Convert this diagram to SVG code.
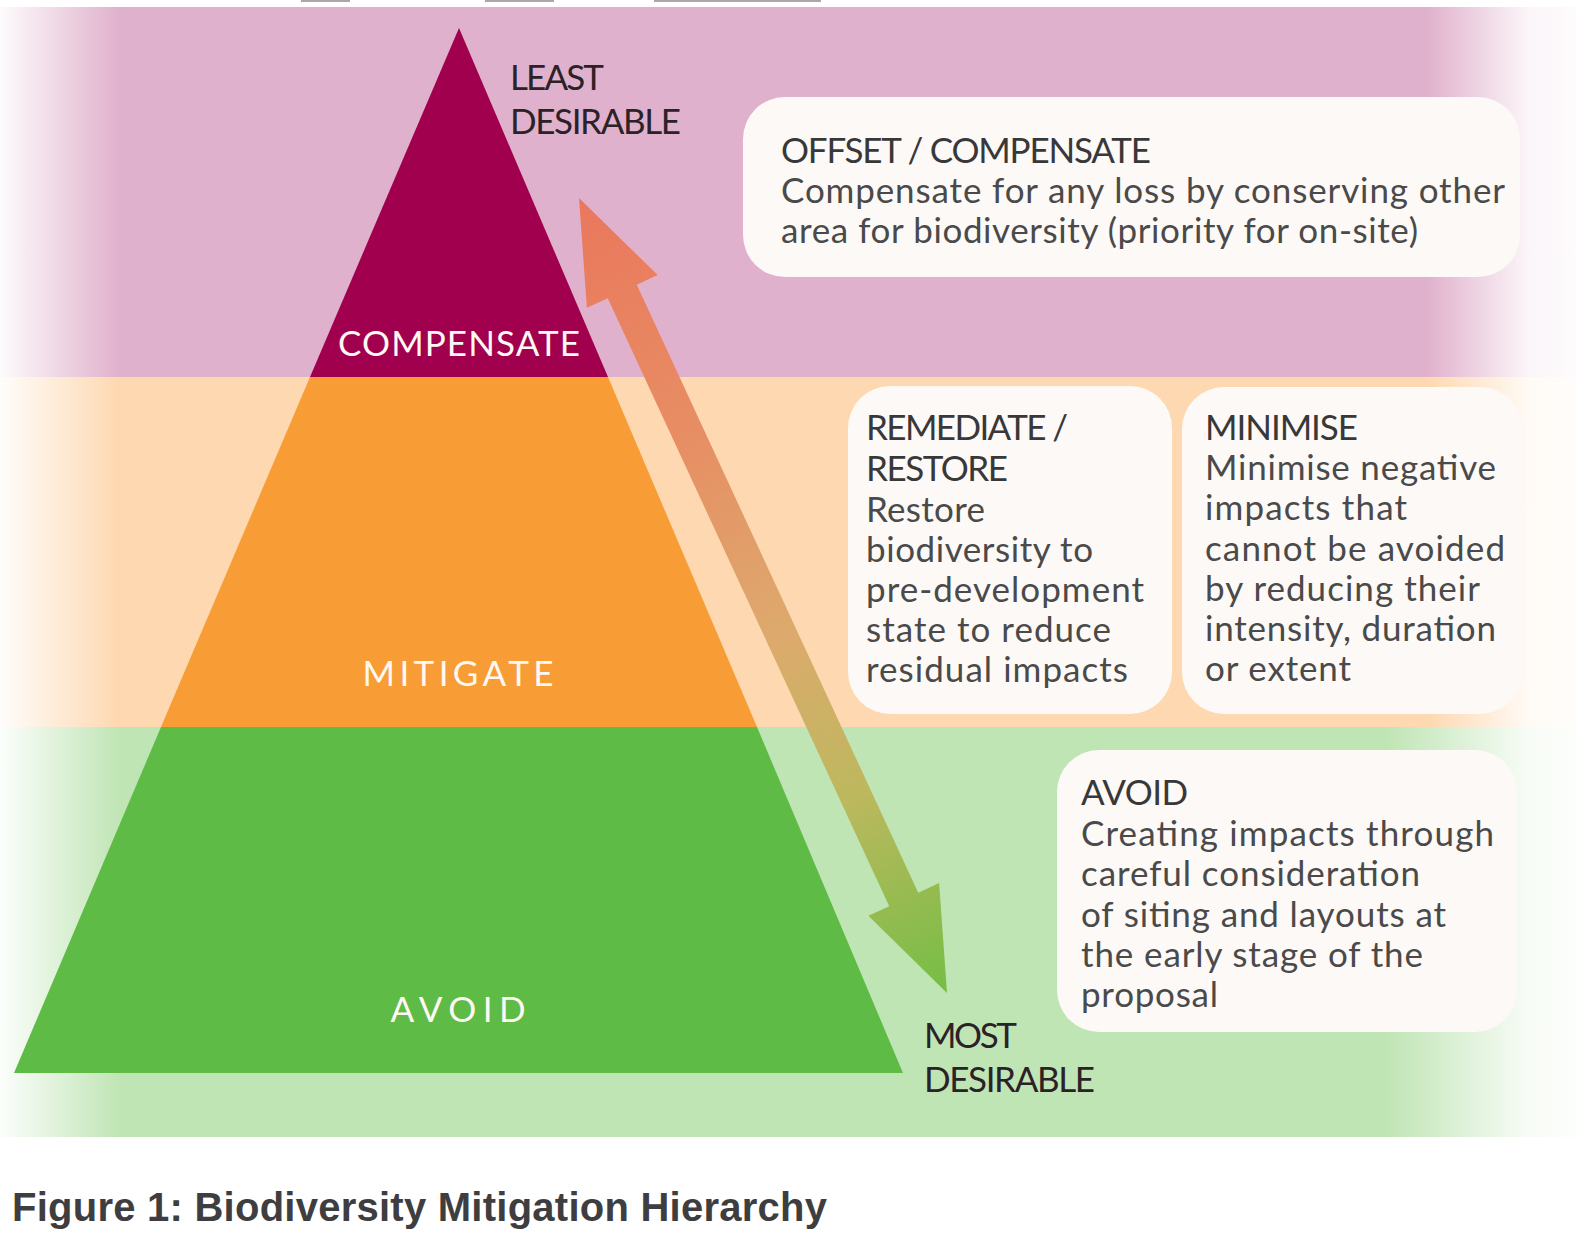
<svg xmlns="http://www.w3.org/2000/svg" width="1576" height="1243" viewBox="0 0 1576 1243">
  <defs>
    <linearGradient id="gPink" gradientUnits="userSpaceOnUse" x1="0" y1="0" x2="1576" y2="0">
      <stop offset="0" stop-color="#E0B1CC" stop-opacity="0.05"/>
      <stop offset="0.076" stop-color="#E0B1CC" stop-opacity="1"/>
      <stop offset="0.905" stop-color="#E0B1CC" stop-opacity="1"/>
      <stop offset="0.97" stop-color="#E0B1CC" stop-opacity="0.12"/>
      <stop offset="1" stop-color="#E0B1CC" stop-opacity="0.05"/>
    </linearGradient>
    <linearGradient id="gOrange" gradientUnits="userSpaceOnUse" x1="0" y1="0" x2="1576" y2="0">
      <stop offset="0" stop-color="#FDD8B0" stop-opacity="0.05"/>
      <stop offset="0.076" stop-color="#FDD8B0" stop-opacity="1"/>
      <stop offset="0.905" stop-color="#FDD8B0" stop-opacity="1"/>
      <stop offset="0.97" stop-color="#FDD8B0" stop-opacity="0.12"/>
      <stop offset="1" stop-color="#FDD8B0" stop-opacity="0.05"/>
    </linearGradient>
    <linearGradient id="gGreen" gradientUnits="userSpaceOnUse" x1="0" y1="0" x2="1576" y2="0">
      <stop offset="0" stop-color="#C0E5B5" stop-opacity="0.05"/>
      <stop offset="0.076" stop-color="#C0E5B5" stop-opacity="1"/>
      <stop offset="0.88" stop-color="#C0E5B5" stop-opacity="1"/>
      <stop offset="0.97" stop-color="#C0E5B5" stop-opacity="0.12"/>
      <stop offset="1" stop-color="#C0E5B5" stop-opacity="0.05"/>
    </linearGradient>
    <linearGradient id="gArrow" gradientUnits="userSpaceOnUse" x1="0" y1="0" x2="876" y2="0">
      <stop offset="0" stop-color="#EA775C"/>
      <stop offset="0.3" stop-color="#E78E64"/>
      <stop offset="0.55" stop-color="#DDAA6D"/>
      <stop offset="0.75" stop-color="#BDB85E"/>
      <stop offset="1" stop-color="#74BE45"/>
    </linearGradient>
  </defs>
  <style>
    .box { fill: #FDF9F7; }
    .h { font-family: Lato, "Liberation Sans", sans-serif; font-size: 35px; fill: #383838; }
    .b { font-family: Lato, "Liberation Sans", sans-serif; font-size: 35px; fill: #4A4A4A; }
    .lvl { font-family: Lato, "Liberation Sans", sans-serif; font-size: 35px; fill: #FFF8F2; text-anchor: middle; }
    .end { font-family: Lato, "Liberation Sans", sans-serif; font-size: 35px; fill: #2B2228; }
    .cap { font-family: "Liberation Sans", Arial, sans-serif; font-size: 40px; font-weight: bold; fill: #3E3E40; }
  </style>

  <rect x="0" y="0" width="1576" height="1243" fill="#FFFFFF"/>
  <g id="top-marks" fill="#A8A8A8">
    <rect x="301" y="0" width="49" height="2"/>
    <rect x="485" y="0" width="69" height="2"/>
    <rect x="654" y="0" width="167" height="2"/>
  </g>

  <g id="bands">
    <rect id="band-compensate" x="0" y="7" width="1576" height="370" fill="url(#gPink)"/>
    <rect id="band-mitigate" x="0" y="377" width="1576" height="350" fill="url(#gOrange)"/>
    <rect id="band-avoid" x="0" y="727" width="1576" height="410" fill="url(#gGreen)"/>
  </g>

  <g id="pyramid-compensate">
    <polygon points="459,28 608,377 310,377" fill="#A0004E"/>
    <text class="lvl" x="459" y="356" textLength="242">COMPENSATE</text>
  </g>
  <g id="pyramid-mitigate">
    <polygon points="310,377 608,377 757,727 161,727" fill="#F89D35"/>
    <text class="lvl" x="458" y="686" textLength="191">MITIGATE</text>
  </g>
  <g id="pyramid-avoid">
    <polygon points="161,727 757,727 903,1073 14,1073" fill="#5DBB46"/>
    <text class="lvl" x="458" y="1022" textLength="135">AVOID</text>
  </g>

  <g id="label-least">
    <text class="end" x="510" y="90" textLength="94">LEAST</text>
    <text class="end" x="510" y="134" textLength="171">DESIRABLE</text>
  </g>
  <g id="label-most">
    <text class="end" x="924" y="1048" textLength="93">MOST</text>
    <text class="end" x="924" y="1092" textLength="171">DESIRABLE</text>
  </g>

  <g id="box-offset">
    <rect class="box" x="743" y="97" width="777" height="180" rx="42"/>
    <text class="h" x="781" y="163" textLength="370">OFFSET / COMPENSATE</text>
    <text class="b" x="781" y="203" textLength="724">Compensate for any loss by conserving other</text>
    <text class="b" x="781" y="243" textLength="637">area for biodiversity (priority for on-site)</text>
  </g>

  <g id="box-restore">
    <rect class="box" x="848" y="386" width="324" height="328" rx="42"/>
    <text class="h" x="866" y="440" textLength="202">REMEDIATE /</text>
    <text class="h" x="866" y="481" textLength="142">RESTORE</text>
    <text class="b" x="866" y="522" textLength="119">Restore</text>
    <text class="b" x="866" y="562" textLength="227">biodiversity to</text>
    <text class="b" x="866" y="602" textLength="278">pre-development</text>
    <text class="b" x="866" y="642" textLength="245">state to reduce</text>
    <text class="b" x="866" y="682" textLength="262">residual impacts</text>
  </g>

  <g id="box-minimise">
    <rect class="box" x="1182" y="387" width="340" height="327" rx="42"/>
    <text class="h" x="1205" y="440" textLength="153">MINIMISE</text>
    <text class="b" x="1205" y="480" textLength="291">Minimise negative</text>
    <text class="b" x="1205" y="520" textLength="202">impacts that</text>
    <text class="b" x="1205" y="561" textLength="300">cannot be avoided</text>
    <text class="b" x="1205" y="601" textLength="275">by reducing their</text>
    <text class="b" x="1205" y="641" textLength="291">intensity, duration</text>
    <text class="b" x="1205" y="681" textLength="146">or extent</text>
  </g>

  <g id="box-avoid">
    <rect class="box" x="1057" y="750" width="460" height="282" rx="42"/>
    <text class="h" x="1081" y="805" textLength="107">AVOID</text>
    <text class="b" x="1081" y="846" textLength="413">Creating impacts through</text>
    <text class="b" x="1081" y="886" textLength="339">careful consideration</text>
    <text class="b" x="1081" y="927" textLength="365">of siting and layouts at</text>
    <text class="b" x="1081" y="967" textLength="342">the early stage of the</text>
    <text class="b" x="1081" y="1007" textLength="137">proposal</text>
  </g>

  <g id="connectors">
    <g id="arrow-desirability" transform="translate(579,198) rotate(65.16)">
      <polygon points="0,0 103,-39 103,-16 773,-16 773,-39 876,0 773,39 773,16 103,16 103,39" fill="url(#gArrow)"/>
    </g>
  </g>

  <g id="caption">
    <text class="cap" x="12" y="1221" textLength="815">Figure 1: Biodiversity Mitigation Hierarchy</text>
  </g>
</svg>
